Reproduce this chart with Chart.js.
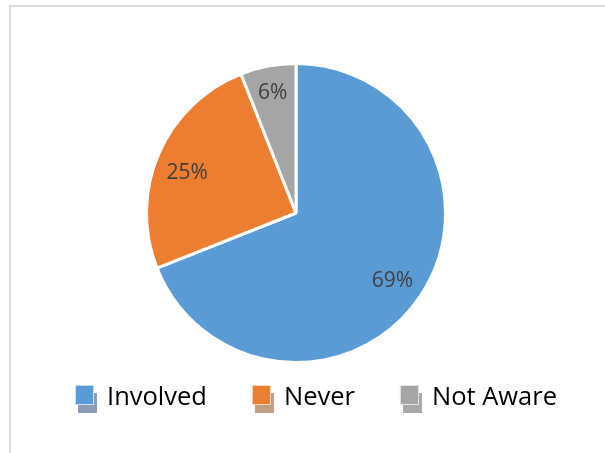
<!DOCTYPE html>
<html>
<head>
<meta charset="utf-8">
<script src="https://cdn.jsdelivr.net/npm/chart.js@4"></script>
<style>
  html, body { margin: 0; padding: 0; background: #fff; overflow: hidden; }
  #wrap { position: relative; width: 605px; height: 453px; }
  /* chart frame, runs off the right and bottom edges */
  #frame {
    position: absolute; left: 9px; top: 5px; width: 700px; height: 600px;
    border: 2px solid #d9d9d9; box-sizing: border-box;
  }
  canvas { position: absolute; left: 0; top: 0; }
</style>
</head>
<body>
<div id="wrap">
  <div id="frame"></div>
  <canvas id="chart" width="605" height="453"></canvas>
</div>
<script>
// survey answers, share in percent
const categories = ['Involved', 'Never', 'Not Aware'];
const shares = [69, 25, 6];

const sliceColors = ['#5B9BD5', '#ED7D31', '#A5A5A5'];
const shadowColors = ['#8E9CB6', '#C39D83', '#A8A8A8'];
// where each percentage sits: fraction of the radius, and a small turn (degrees)
const labelRadius = [0.78, 0.78, 0.83];
const labelTurn = [0, -2.5, 0];

// draws "nn%" inside each slice
const sliceLabels = {
  id: 'sliceLabels',
  afterDatasetsDraw(chart) {
    const ctx = chart.ctx;
    const meta = chart.getDatasetMeta(0);
    const data = chart.data.datasets[0].data;
    ctx.save();
    ctx.font = '21px "Open Sans"';
    ctx.fillStyle = '#404040';
    ctx.textAlign = 'center';
    ctx.textBaseline = 'middle';
    meta.data.forEach((arc, i) => {
      const p = arc.getProps(['x', 'y', 'startAngle', 'endAngle', 'outerRadius'], true);
      const mid = (p.startAngle + p.endAngle) / 2 + labelTurn[i] * Math.PI / 180;
      const r = p.outerRadius * labelRadius[i];
      ctx.fillText(data[i] + '%', p.x + Math.cos(mid) * r, p.y + Math.sin(mid) * r + 2);
    });
    ctx.restore();
  }
};

// legend with shadowed boxes under the pie
const boxLegend = {
  id: 'boxLegend',
  afterDraw(chart) {
    const ctx = chart.ctx;
    const labels = chart.data.labels;
    const box = 19, gapText = 13, gapItem = 45, cy = 398, cx = 316;
    ctx.save();
    ctx.font = '25.5px "Open Sans"';
    ctx.textBaseline = 'middle';
    const widths = labels.map(l => ctx.measureText(l).width);
    let total = widths.reduce((a, w) => a + box + gapText + w, 0) + gapItem * (labels.length - 1);
    let x = cx - total / 2;
    labels.forEach((l, i) => {
      const top = cy - 13;
      ctx.fillStyle = shadowColors[i];
      ctx.fillRect(x + 3, top + 8, box, box + 1);
      ctx.fillStyle = sliceColors[i];
      ctx.fillRect(x, top, box, box + 1);
      ctx.strokeStyle = 'rgba(255,255,255,0.7)';
      ctx.lineWidth = 1;
      ctx.strokeRect(x + 0.5, top + 0.5, box - 1, box);
      ctx.fillStyle = '#000';
      ctx.fillText(l, x + box + gapText, cy);
      x += box + gapText + widths[i] + gapItem;
    });
    ctx.restore();
  }
};

new Chart(document.getElementById('chart'), {
  type: 'pie',
  data: {
    labels: categories,
    datasets: [{
      data: shares,
      backgroundColor: sliceColors,
      borderColor: '#ffffff',
      borderWidth: 3
    }]
  },
  options: {
    responsive: false,
    animation: false,
    layout: { padding: { top: 62, bottom: 89, left: 145, right: 158 } },
    plugins: {
      legend: { display: false },
      tooltip: { enabled: false }
    }
  },
  plugins: [sliceLabels, boxLegend]
});
</script>
</body>
</html>
